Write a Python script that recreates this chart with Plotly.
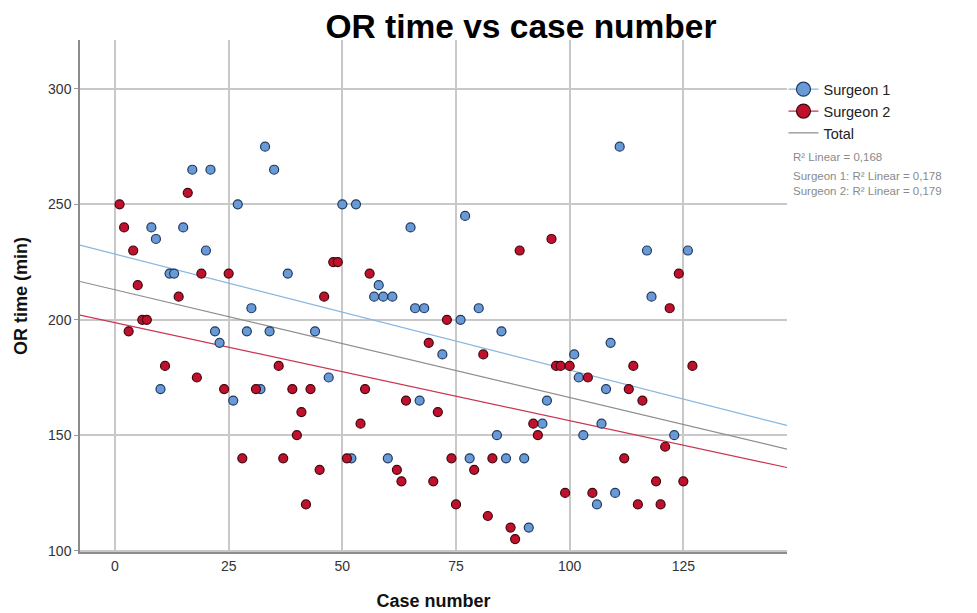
import numpy as np
import plotly.graph_objects as go

# ---- data ----
s1_case = [8, 9, 10, 12, 13, 15, 17, 20, 21, 22, 23, 26, 27, 29, 30, 32, 33, 34, 35, 38,
           44, 47, 50, 52, 53, 57, 58, 59, 60, 61, 65, 66, 67, 68, 72, 76, 77, 78, 80, 84,
           85, 86, 90, 91, 94, 95, 101, 102, 103, 106, 107, 108, 109, 110, 111, 117, 118, 123, 126]
s1_time = [240, 235, 170, 220, 220, 240, 265, 230, 265, 195, 190, 165, 250, 195, 205, 170, 275, 195, 265, 220,
           195, 175, 250, 140, 250, 210, 215, 210, 140, 210, 240, 205, 165, 205, 185, 200, 245, 140, 205, 150,
           195, 140, 140, 110, 155, 165, 185, 175, 150, 120, 155, 170, 190, 125, 275, 230, 210, 150, 230]

s2_case = [1, 2, 3, 4, 5, 6, 7, 11, 14, 16, 18, 19, 24, 25, 28, 31, 36, 37, 39, 40,
           41, 42, 43, 45, 46, 48, 49, 51, 54, 55, 56, 62, 63, 64, 69, 70, 71, 73, 74, 75,
           79, 81, 82, 83, 87, 88, 89, 92, 93, 96, 97, 98, 99, 100, 104, 105, 112, 113, 114, 115,
           116, 119, 120, 121, 122, 124, 125, 127]
s2_time = [250, 240, 195, 230, 215, 200, 200, 180, 210, 255, 175, 220, 170, 220, 140, 170, 180, 140, 170, 150,
           160, 120, 170, 135, 210, 225, 225, 140, 155, 170, 220, 135, 130, 165, 190, 130, 160, 200, 140, 120,
           135, 185, 115, 140, 110, 105, 230, 155, 150, 235, 180, 180, 125, 180, 175, 125, 140, 170, 180, 120,
           165, 130, 120, 145, 205, 220, 130, 180]

x_ticks = [0, 25, 50, 75, 100, 125]
y_ticks = [100, 150, 200, 250, 300]
r2_labels = ["R\u00b2 Linear = 0,168",
             "Surgeon 1: R\u00b2 Linear = 0,178",
             "Surgeon 2: R\u00b2 Linear = 0,179"]

X_RANGE = [-7.7, 147.8]
Y_RANGE = [99.4, 321.2]

BLUE = "#6a9ad6"
BLUE_EDGE = "#1f3960"
RED = "#c0102c"
RED_EDGE = "#3d0810"
BLUE_LINE = "#86b6e2"
RED_LINE = "#cc3350"
GRAY_LINE = "#8e8e8e"


def fit_line(xs, ys):
    b, a = np.polyfit(np.asarray(xs, float), np.asarray(ys, float), 1)
    xl = np.array(X_RANGE)
    return xl, a + b * xl


fig = go.Figure()

all_case = s1_case + s2_case
all_time = s1_time + s2_time
for xs, ys, col in [(all_case, all_time, GRAY_LINE),
                    (s1_case, s1_time, BLUE_LINE),
                    (s2_case, s2_time, RED_LINE)]:
    lx, ly = fit_line(xs, ys)
    fig.add_trace(go.Scatter(x=lx, y=ly, mode="lines", line=dict(color=col, width=1.2),
                             showlegend=False, hoverinfo="skip"))

fig.add_trace(go.Scatter(x=s1_case, y=s1_time, mode="markers", showlegend=False,
                         marker=dict(size=9, color=BLUE, line=dict(color=BLUE_EDGE, width=1.2))))
fig.add_trace(go.Scatter(x=s2_case, y=s2_time, mode="markers", showlegend=False,
                         marker=dict(size=9, color=RED, line=dict(color=RED_EDGE, width=1.2))))

# legend entries
fig.add_trace(go.Scatter(x=[None], y=[None], mode="lines+markers", name="Surgeon 1",
                         line=dict(color=BLUE_LINE, width=1.2),
                         marker=dict(size=14, color=BLUE, line=dict(color=BLUE_EDGE, width=1.2))))
fig.add_trace(go.Scatter(x=[None], y=[None], mode="lines+markers", name="Surgeon 2",
                         line=dict(color=RED_LINE, width=1.2),
                         marker=dict(size=14, color=RED, line=dict(color=RED_EDGE, width=1.2))))
fig.add_trace(go.Scatter(x=[None], y=[None], mode="lines", name="Total",
                         line=dict(color=GRAY_LINE, width=1.2)))

ann_y = [0.771, 0.734, 0.705]
for txt, yy in zip(r2_labels, ann_y):
    fig.add_annotation(text=txt, xref="paper", yref="paper", x=1.006, y=yy,
                       xanchor="left", yanchor="middle", showarrow=False,
                       font=dict(size=11.5, color="#8a8a8a", family="Liberation Sans, Arial, sans-serif"))

# the page body has an 8px margin, so the figure is sized to fit inside the window
fig.update_layout(
    width=969, height=605,
    margin=dict(l=72, r=190, t=32, b=61, autoexpand=False),
    paper_bgcolor="white", plot_bgcolor="white",
    font=dict(family="Liberation Sans, Arial, sans-serif", color="#222"),
    title=dict(text="<b>OR time vs case number</b>", x=0.5294, xanchor="center",
               y=0.969, yanchor="middle", yref="container",
               font=dict(size=33.5, color="black", family="Liberation Sans, Arial, sans-serif")),
    legend=dict(x=0.995, y=0.935, xanchor="left", yanchor="top",
                font=dict(size=14.5, color="#222"), bgcolor="rgba(0,0,0,0)",
                tracegroupgap=0, itemsizing="trace"),
    xaxis=dict(range=X_RANGE, tickvals=x_ticks, showgrid=True, gridcolor="#c8c8c8", gridwidth=1.5,
               zeroline=False, showline=True, linecolor="#8c8c8c", linewidth=2, automargin=False,
               ticks="", tickfont=dict(size=14, color="#333"),
               title=dict(text="<b>Case number</b>", font=dict(size=18, color="#111"), standoff=22)),
    yaxis=dict(range=Y_RANGE, tickvals=y_ticks, showgrid=True, gridcolor="#c8c8c8", gridwidth=1.5,
               zeroline=False, showline=True, linecolor="#8c8c8c", linewidth=1.5, automargin=False,
               ticks="outside", ticklen=4, tickcolor="#9a9a9a", tickfont=dict(size=14, color="#333"),
               title=dict(text="<b>OR time (min)</b>", font=dict(size=18, color="#111"), standoff=16)),
)

fig.write_html("out.html")
